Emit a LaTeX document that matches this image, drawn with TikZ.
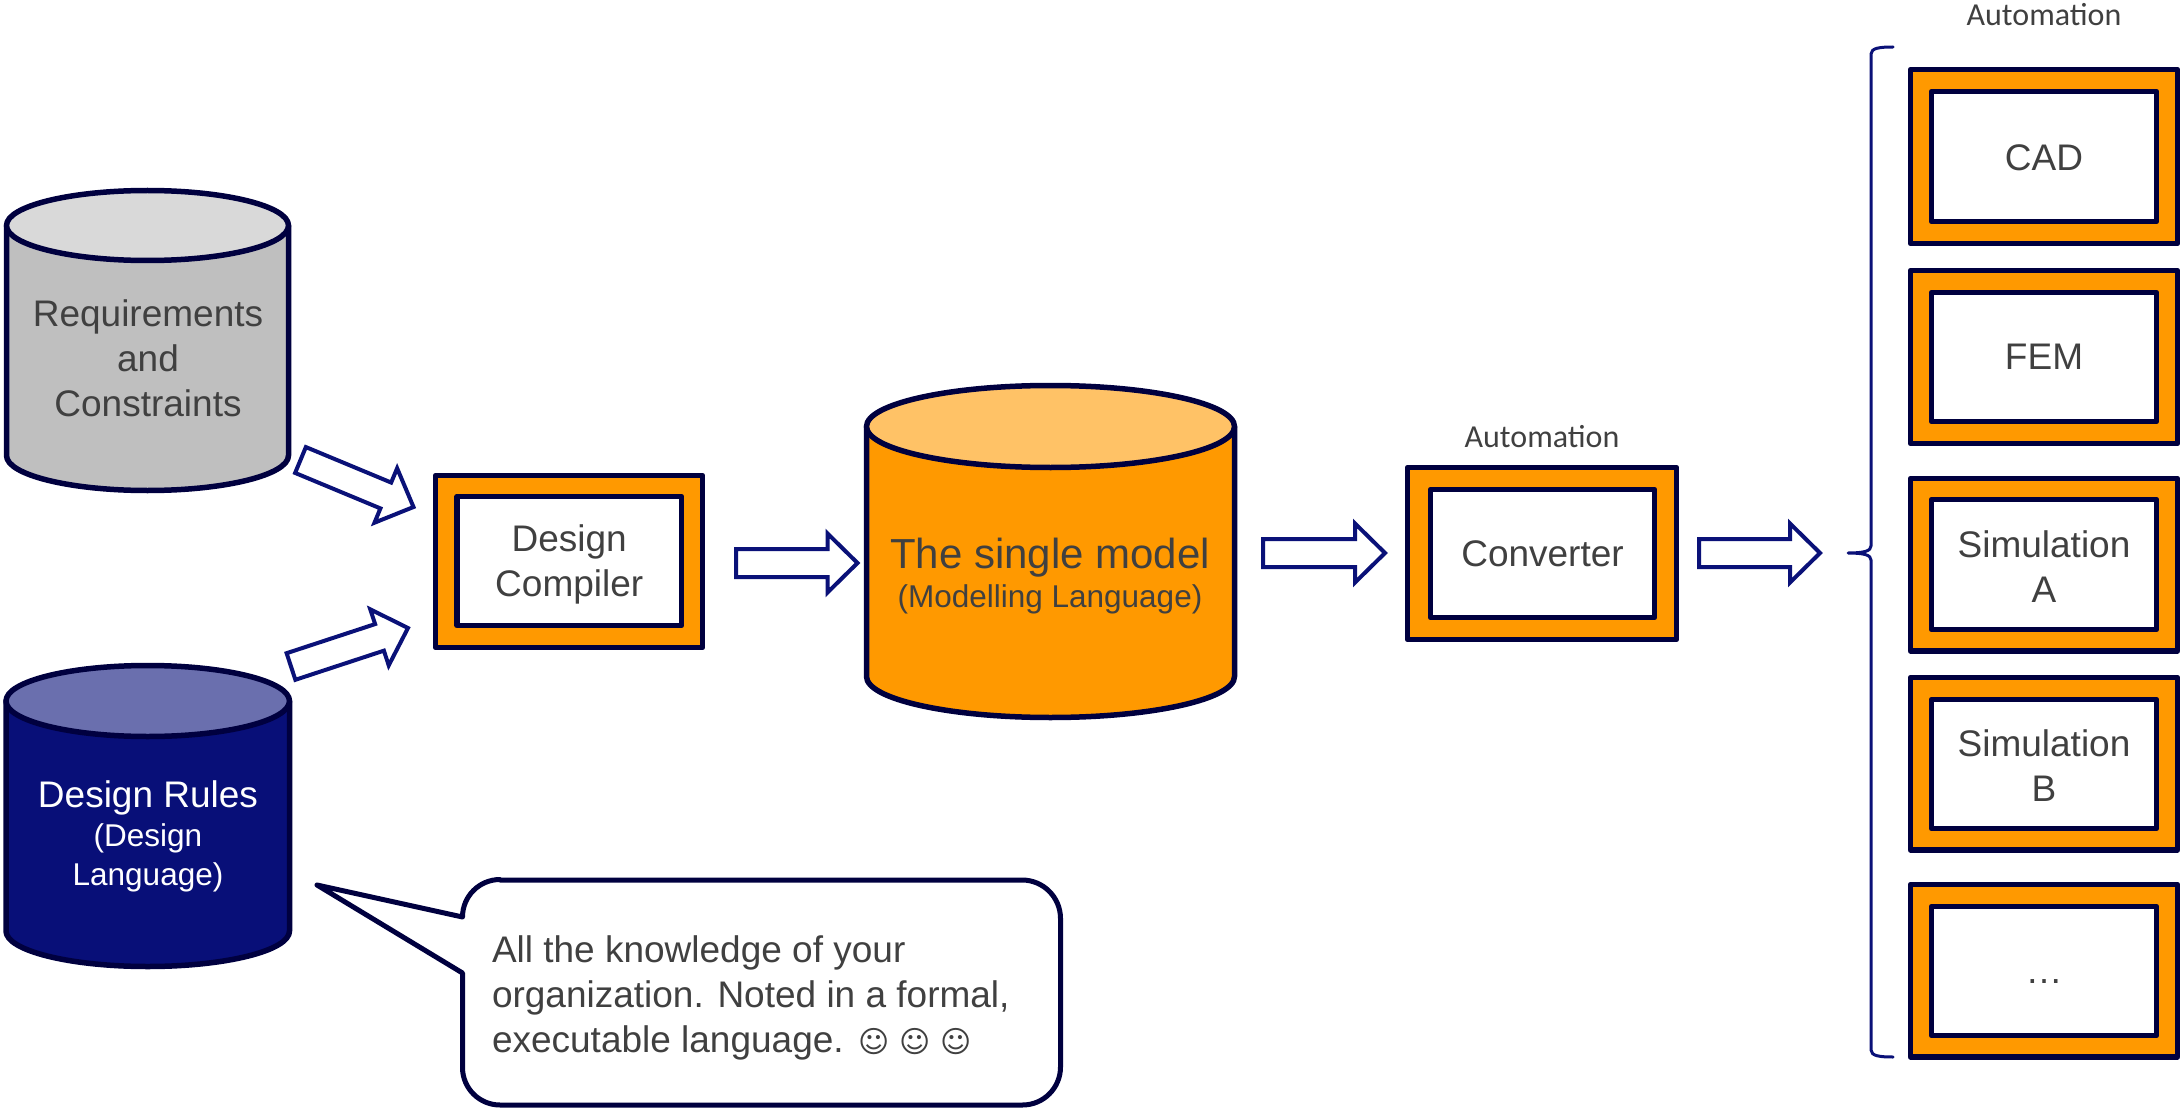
\documentclass[tikz,border=0pt]{standalone}
\usepackage{fontspec}
\setmainfont{Liberation Sans}
\newfontfamily\autofont{Carlito}
\newfontfamily\symfont{DejaVu Sans}
\usetikzlibrary{calc}
\definecolor{edge}{HTML}{00003F}
\definecolor{arrowblue}{HTML}{0A1178}
\definecolor{orangefill}{HTML}{FF9900}
\definecolor{orangetop}{HTML}{FFC266}
\definecolor{greyfill}{HTML}{BFBFBF}
\definecolor{greytop}{HTML}{D9D9D9}
\definecolor{bluefill}{HTML}{080F78}
\definecolor{bluetop}{HTML}{6A6FAE}
\definecolor{txt}{HTML}{404040}
\newcommand{\fsz}[2]{\fontsize{#1pt}{#2pt}\selectfont}
\tikzset{
  x=1pt,y=-1pt,
  outerbox/.style={draw=edge,fill=orangefill,line width=5.5pt,line join=round,inner sep=0pt,outer sep=0pt},
  innerbox/.style={draw=edge,fill=white,line width=5.5pt,line join=round,inner sep=0pt,outer sep=0pt,text=txt,align=center,font=\fsz{37}{45}},
  cyl/.style={draw=edge,line width=5.5pt,line join=round},
  label/.style={inner sep=0pt,outer sep=0pt,align=center,text=txt,font=\fsz{37}{45}},
  sublabel/.style={inner sep=0pt,outer sep=0pt,align=center,text=txt,font=\fsz{31.5}{39}},
  autolabel/.style={inner sep=0pt,outer sep=0pt,text=txt,font=\autofont\fsz{32}{36}},
  blockarr/.style={draw=arrowblue,fill=white,line width=4pt,miter limit=10},
  bracket/.style={draw=arrowblue,line width=3pt,line join=round,line cap=round},
  note/.style={draw=edge,fill=white,line width=5pt,line join=round}
}
% name, x1, y1, x2, y2 (outer), x1, y1, x2, y2 (inner), text
\newcommand{\procbox}[9]{%
  \node[outerbox,minimum width={#4-#2},minimum height={#5-#3}] (#1) at ({(#2+#4)/2},{(#3+#5)/2}) {};
  \node[innerbox,minimum width={#8-#6},minimum height={#9-#7}] (#1in) at ({(#6+#8)/2},{(#7+#9)/2})}
% xl xr ytop ry ybot fill top
\newcommand{\cylshape}[7]{%
  \draw[cyl,fill=#6] (#1,{#3+#4}) -- (#1,{#5-#4}) arc[start angle=180,end angle=360,x radius={(#2-#1)/2*1pt},y radius=#4 pt] -- (#2,{#3+#4}) -- cycle;
  \draw[cyl,fill=#7] ({(#1+#2)/2},{#3+#4}) ellipse[x radius={(#2-#1)/2*1pt},y radius=#4 pt];}
% from, to, half shaft, half head, head length
\newcommand{\blockarrow}[5]{%
  \coordinate (hb) at ($(#2)!#5pt!(#1)$);
  \draw[blockarr] ($(#1)!#3pt!90:(#2)$) -- ($(hb)!#3pt!90:(#2)$) -- ($(hb)!#4pt!90:(#2)$) -- (#2)
     -- ($(hb)!#4pt!-90:(#2)$) -- ($(hb)!#3pt!-90:(#2)$) -- ($(#1)!#3pt!-90:(#2)$) -- cycle;}
\begin{document}
\begin{tikzpicture}
\useasboundingbox (0,0) rectangle (2180,1110);

% cylinders
\cylshape{6.5}{288.5}{190.5}{35}{490.5}{greyfill}{greytop}
\node[label] (req) at (148,358) {Requirements\\and\\Constraints};
\cylshape{6}{289.5}{665.5}{35.5}{966.5}{bluefill}{bluetop}
\node[sublabel,text=white] (rules) at (148,836) {{\fsz{37}{39}Design Rules}\\(Design\\Language)};
\cylshape{866.5}{1234.5}{385.5}{41}{717.5}{orangefill}{orangetop}
\node[sublabel] (model) at (1050,576) {{\fsz{42}{39}The single model}\\(Modelling Language)};

% boxes
\procbox{comp}{435.5}{475.5}{702.5}{647.5}{457}{496.5}{681.5}{625.5} {\rule{0pt}{33pt}Design\\Compiler};
\procbox{conv}{1407.5}{467.5}{1676.5}{639.5}{1430.5}{489.5}{1654.5}{617.5} {Converter};
\procbox{cad}{1910.5}{69.5}{2177.5}{243.5}{1931.5}{91.5}{2156.5}{221.5} {\rule{0pt}{29pt}CAD};
\procbox{fem}{1910.5}{270.5}{2177.5}{443.5}{1931.5}{292.5}{2156.5}{421.5} {FEM};
\procbox{sima}{1910.5}{478.5}{2177.5}{651}{1931.5}{499.5}{2156.5}{629.5} {\rule{0pt}{30pt}Simulation\\A};
\procbox{simb}{1910.5}{677.5}{2177.5}{850}{1931.5}{699.5}{2156.5}{828.5} {\rule{0pt}{30pt}Simulation\\B};
\procbox{more}{1910.5}{884.5}{2177.5}{1057}{1931.5}{906.5}{2156.5}{1035.5} {\vphantom{H}…};

% automation labels
\node[autolabel] (auto1) at (1542,437) {Automation};
\node[autolabel] (auto2) at (2044,15) {Automation};

% block arrows
\coordinate (a1s) at (300.5,460);
\coordinate (a1t) at (413.5,507);
\coordinate (a2s) at (291,666.5);
\coordinate (a2t) at (408,628);
\coordinate (a3s) at (736,563);
\coordinate (a3t) at (857.5,563);
\coordinate (a4s) at (1263,553);
\coordinate (a4t) at (1385,553);
\coordinate (a5s) at (1699,553);
\coordinate (a5t) at (1820,553);
\blockarrow{a1s}{a1t}{14}{29.5}{30}
\blockarrow{a2s}{a2t}{14}{29.5}{30}
\blockarrow{a3s}{a3t}{14}{29.5}{30}
\blockarrow{a4s}{a4t}{14}{29.5}{30}
\blockarrow{a5s}{a5t}{14}{29.5}{30}

% bracket
\draw[bracket] (1893,47) .. controls (1880,47) and (1871,48) .. (1871,54) -- (1871,546)
  .. controls (1871,551) and (1864,553) .. (1848,553)
  .. controls (1864,553) and (1871,555) .. (1871,560) -- (1871,1050)
  .. controls (1871,1056) and (1880,1057) .. (1893,1057);

% callout
\draw[note] (500,880) -- (1022,880) arc[start angle=90,end angle=0,radius=38.5pt]
  -- (1060.5,1067) arc[start angle=0,end angle=-90,radius=38pt]
  -- (500,1105) arc[start angle=270,end angle=180,radius=37.5pt]
  -- (462.5,973) -- (317,885) -- (462.5,917)
  arc[start angle=180,end angle=90,radius=37.5pt] -- cycle;
\node[label,align=left,anchor=north west] (notetext) at (492,936) {All the knowledge of your\\organization. Noted in a formal,\\executable language.\hspace{15pt}{\symfont\fsz{30}{45}☺ ☺ ☺}};
\end{tikzpicture}
\end{document}
